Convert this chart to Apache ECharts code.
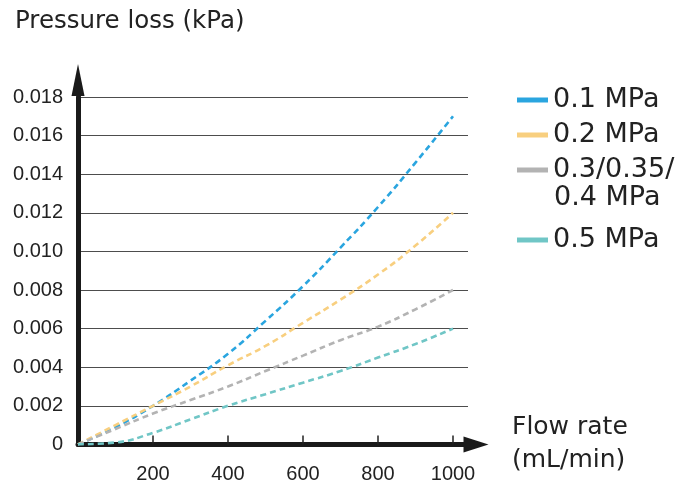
<!DOCTYPE html>
<html>
<head>
<meta charset="utf-8">
<script src="https://cdn.jsdelivr.net/npm/echarts@6/dist/echarts.min.js"></script>
<style>
  html, body { margin: 0; padding: 0; background: #fff; }
  #chart { width: 686px; height: 497px; }
</style>
</head>
<body>
<div id="chart"></div>
<script>
// flow rate (mL/min) and pressure loss (kPa)
const flowRate = [0, 100, 200, 300, 400, 500, 600, 700, 800, 900, 1000];
const loss01 = [0, 0.0009, 0.002, 0.0033, 0.0047, 0.0064, 0.0082, 0.0102, 0.0123, 0.0146, 0.017];
const loss02 = [0, 0.001, 0.002, 0.003, 0.0041, 0.0051, 0.0063, 0.0075, 0.0088, 0.0103, 0.012];
const loss03 = [0, 0.0008, 0.0016, 0.0023, 0.003, 0.0038, 0.0046, 0.0054, 0.0061, 0.007, 0.008];
const loss05 = [0, 0.0001, 0.0006, 0.0013, 0.002, 0.0026, 0.0032, 0.0038, 0.0045, 0.0052, 0.006];
const xTicks = [200, 400, 600, 800, 1000];
const seriesNames = ['0.1 MPa', '0.2 MPa', '0.3/0.35/0.4 MPa', '0.5 MPa'];
const colors = ['#2aa5df', '#f8cf7f', '#b3b3b3', '#70c6c6'];

let textColor = '#222222';
let fontFamily = 'DejaVu Sans';

const chart = echarts.init(document.getElementById('chart'));

function getLine(name, values, color) {
  return {
    name,
    type: 'line',
    smooth: 0.5,
    showSymbol: false,
    color: color,
    lineStyle: { color: color, width: 2.6, type: [6, 4] },
    data: flowRate.map((x, i) => [x, values[i]]),
    animation: false
  };
}

const legendBase = {
  orient: 'vertical',
  left: 512,
  icon: 'rect',
  itemWidth: 31,
  itemHeight: 5,
  itemGap: 0,
  textStyle: { color: textColor, fontFamily, fontSize: 27, lineHeight: 35 },
  formatter: name => name === seriesNames[2] ? '0.3/0.35/' : name
};

chart.setOption({
  animation: false,
  title: {
    text: 'Pressure loss (kPa)',
    left: 10,
    top: 4,
    textStyle: { color: textColor, fontFamily, fontSize: 24.5, fontWeight: 'normal' }
  },
  legend: [
    { ...legendBase, top: 77.5, data: seriesNames.slice(0, 3) },
    { ...legendBase, top: 217.5, data: seriesNames.slice(3) }
  ],
  graphic: [{
    type: 'text',
    left: 554,
    top: 184,
    style: { text: '0.4 MPa', fill: textColor, font: '27px "DejaVu Sans"' }
  }],
  grid: {
    left: 78,
    right: 218,
    top: 97,
    bottom: 52.6,
    outerBoundsMode: 'none'
  },
  xAxis: {
    type: 'value',
    min: 0,
    max: 1040,
    interval: 200,
    name: 'Flow rate\n(mL/min)',
    nameLocation: 'end',
    nameGap: 44,
    nameTextStyle: { color: textColor, fontFamily, fontSize: 25, lineHeight: 33, align: 'left', padding: [33, 0, 0, 0] },
    axisLine: {
      lineStyle: { color: '#1a1a1a', width: 5 },
      symbol: ['none', 'triangle'],
      symbolSize: [16, 25],
      symbolOffset: [0, 8]
    },
    axisTick: { show: true, inside: true, length: 9, customValues: xTicks, lineStyle: { color: '#222', width: 1.5 } },
    axisLabel: {
      customValues: xTicks,
      margin: 20,
      color: textColor,
      fontFamily: 'Liberation Sans',
      fontSize: 20,
      formatter: v => String(v)
    },
    splitLine: { show: false }
  },
  yAxis: {
    type: 'value',
    min: 0,
    max: 0.018,
    interval: 0.002,
    axisLine: {
      show: true,
      lineStyle: { color: '#1a1a1a', width: 5 },
      symbol: ['none', 'triangle'],
      symbolSize: [13, 32],
      symbolOffset: [0, 17]
    },
    axisTick: { show: false },
    axisLabel: {
      margin: 15,
      color: textColor,
      fontFamily: 'Liberation Sans',
      fontSize: 20,
      formatter: v => v === 0 ? '0' : v.toFixed(3)
    },
    splitLine: { lineStyle: { color: '#4d4d4d', width: 1 } }
  },
  series: [
    getLine(seriesNames[0], loss01, colors[0]),
    getLine(seriesNames[1], loss02, colors[1]),
    getLine(seriesNames[2], loss03, colors[2]),
    getLine(seriesNames[3], loss05, colors[3])
  ]
});
</script>
</body>
</html>
